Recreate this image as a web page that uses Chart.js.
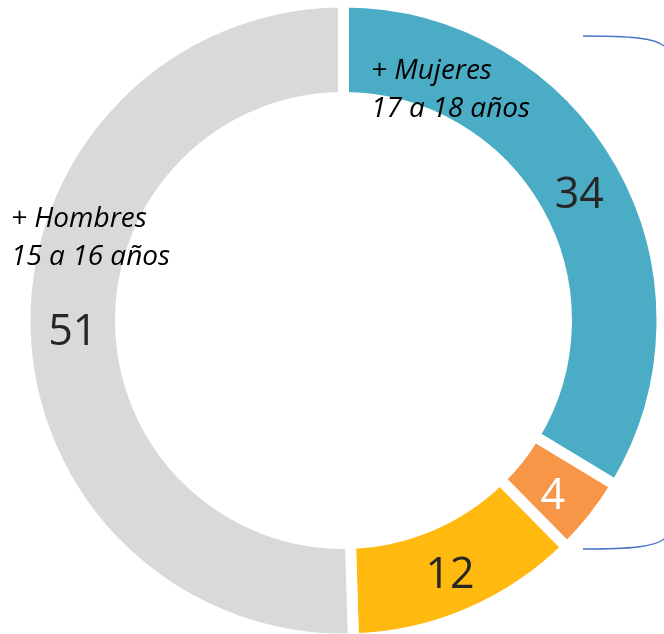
<!DOCTYPE html>
<html>
<head>
<meta charset="utf-8">
<script src="https://cdn.jsdelivr.net/npm/chart.js@4"></script>
<style>
  html, body { margin: 0; padding: 0; background: #fff; overflow: hidden; }
  #wrap { width: 664px; height: 634px; overflow: hidden; }
</style>
</head>
<body>
<div id="wrap"><canvas id="chart" width="664" height="640"></canvas></div>
<script>
const categories = ["Mujeres 17 a 18 años", "Mujeres otras", "Hombres otras", "Hombres 15 a 16 años"];
const values = [34, 4, 12, 51];
const sliceColors = ["#4BACC6", "#F79646", "#FFB90F", "#D9D9D9"];
const labelColors = ["#262626", "#FFFFFF", "#262626", "#262626"];
const notes = [
    { lines: ["+ Mujeres", "17 a 18 años"], x: 371, y: 71 },
    { lines: ["+ Hombres", "15 a 16 años"], x: 11, y: 219 },
];

// value labels drawn at each arc's centre, with small nudges like the original
const valueLabels = {
    id: "valueLabels",
    afterDatasetsDraw(chart, args, opts) {
        const ctx = chart.ctx;
        const meta = chart.getDatasetMeta(0);
        ctx.save();
        ctx.font = "43px 'Open Sans', sans-serif";
        ctx.textAlign = "center";
        ctx.textBaseline = "middle";
        meta.data.forEach((arc, i) => {
            const p = arc.tooltipPosition();
            const n = opts.nudge[i] || [0, 0];
            ctx.fillStyle = labelColors[i];
            ctx.fillText(values[i], p.x + n[0], p.y + n[1]);
        });
        // italic notes
        ctx.font = "italic 28px 'Open Sans', sans-serif";
        ctx.textAlign = "left";
        ctx.fillStyle = "#000";
        notes.forEach((note) => {
            note.lines.forEach((line, k) => {
                ctx.fillText(line, note.x, note.y + k * 38);
            });
        });
        // bracket on the right
        ctx.strokeStyle = "#4472C4";
        ctx.lineWidth = 1.3;
        ctx.beginPath();
        ctx.moveTo(583, 36);
        ctx.bezierCurveTo(630, 36, 655, 38, 664, 46);
        ctx.stroke();
        ctx.beginPath();
        ctx.moveTo(583, 549);
        ctx.bezierCurveTo(630, 549, 655, 547, 664, 539);
        ctx.stroke();
        ctx.restore();
    },
};

new Chart(document.getElementById("chart"), {
    type: "doughnut",
    data: {
        labels: categories,
        datasets: [
            {
                data: values,
                backgroundColor: sliceColors,
                borderColor: "#FFFFFF",
                borderWidth: 11,
                borderJoinStyle: "miter",
            },
        ],
    },
    options: {
        responsive: false,
        animation: false,
        radius: 318.5,
        cutout: "70%",
        layout: { padding: { left: 25, right: 2, top: 2, bottom: 1 } },
        plugins: {
            legend: { display: false },
            tooltip: { enabled: false },
            valueLabels: { nudge: [[0, 8], [-3, 8], [0, 6], [0, 8]] },
        },
    },
    plugins: [valueLabels],
});
</script>
</body>
</html>
